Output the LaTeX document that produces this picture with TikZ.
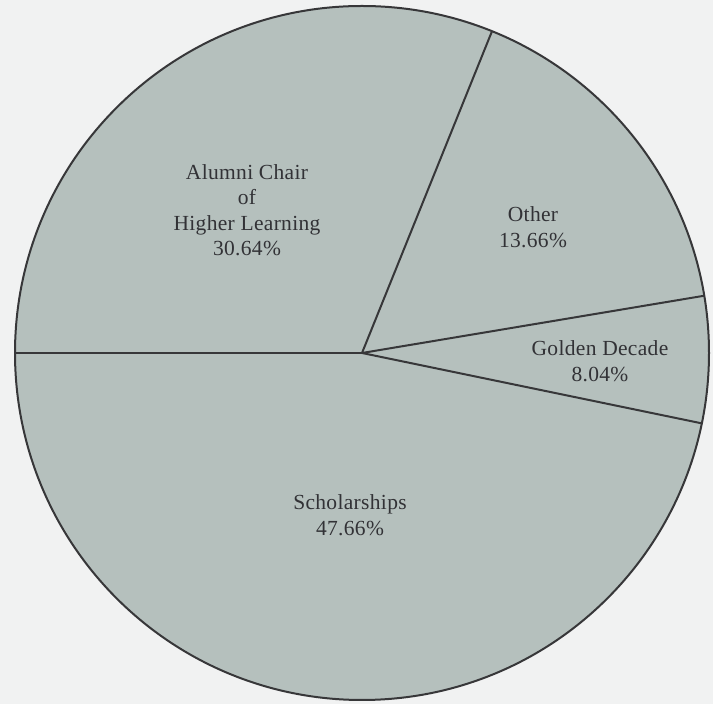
\documentclass[tikz,border=0pt]{standalone}
\usepackage{fontspec}
\setmainfont[LetterSpace=1.5]{Liberation Serif}
\usetikzlibrary{calc}
\definecolor{bgcol}{RGB}{241,242,242}
\definecolor{piefill}{RGB}{181,192,189}
\definecolor{edgecol}{RGB}{55,55,57}
\definecolor{textcol}{RGB}{50,50,54}
\tikzset{
  slice edge/.style={draw=edgecol, line width=2pt},
  pielabel/.style={text=textcol, align=center, font=\fontsize{21.5}{25.5}\selectfont, inner sep=0pt}
}
\begin{document}
\begin{tikzpicture}[x=1pt,y=1pt]
\fill[bgcol] (0,0) rectangle (713,704);
\useasboundingbox (0,0) rectangle (713,704);
\coordinate (c) at (362,351);
\fill[piefill] (c) circle[radius=347];
\coordinate (pTop) at ($(c)+(68:347)$);
\coordinate (pUp) at ($(c)+(9.5:347)$);
\coordinate (pLow) at ($(c)+(-11.7:347)$);
\coordinate (pLeft) at ($(c)+(180:347)$);
\draw[slice edge] (c) -- (pTop);
\draw[slice edge] (c) -- (pUp);
\draw[slice edge] (c) -- (pLow);
\draw[slice edge] (c) -- (pLeft);
\draw[slice edge] (c) circle[radius=347];
\node[pielabel] (alumni) at (247,494) {Alumni Chair\\of\\Higher Learning\\30.64\%};
\node[pielabel] (other) at (533,477) {Other\\13.66\%};
\node[pielabel] (golden) at (600,343) {Golden Decade\\8.04\%};
\node[pielabel] (schol) at (350,189) {Scholarships\\47.66\%};
\end{tikzpicture}
\end{document}
